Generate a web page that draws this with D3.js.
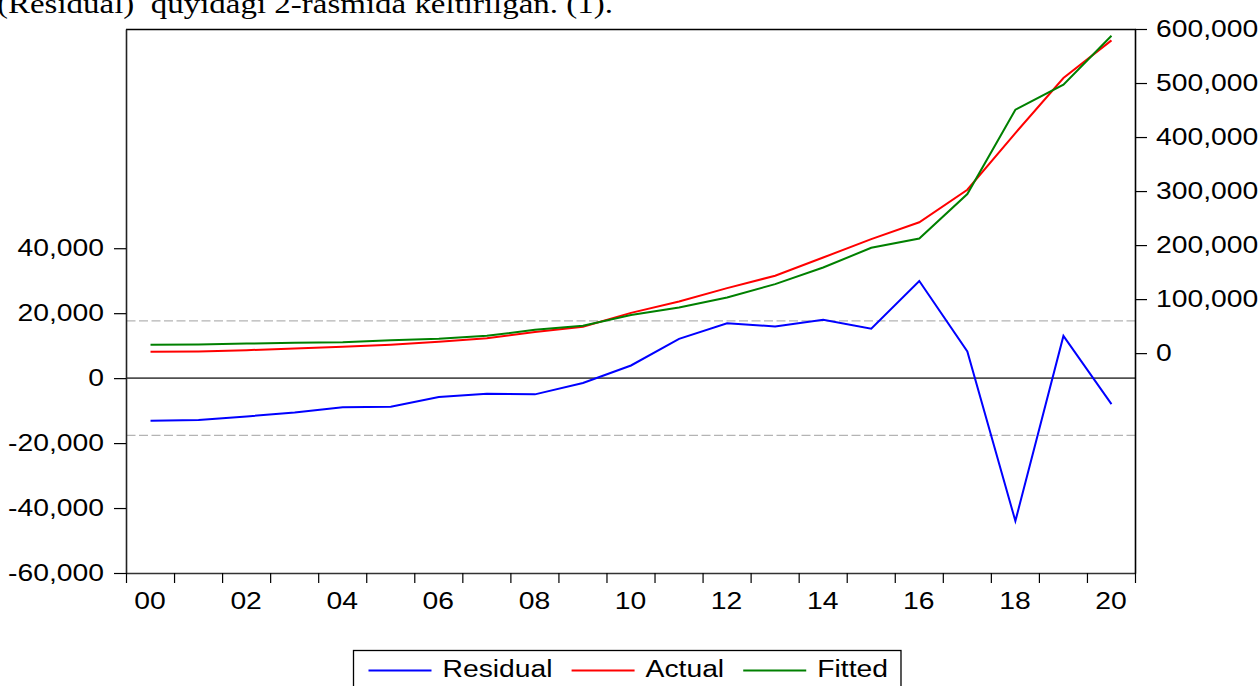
<!DOCTYPE html>
<html>
<head>
<meta charset="utf-8">
<script src="https://cdn.jsdelivr.net/npm/d3@7"></script>
<style>
  html, body { margin: 0; padding: 0; background: #fff; overflow: hidden; }
  svg { display: block; }
</style>
</head>
<body>
<svg id="chart" width="1260" height="686"></svg>
<script>
// ---- data -------------------------------------------------------------
const years = [2000, 2001, 2002, 2003, 2004, 2005, 2006, 2007, 2008, 2009, 2010,
               2011, 2012, 2013, 2014, 2015, 2016, 2017, 2018, 2019, 2020];

// Residual (left scale)
const residual = [-13100, -12900, -11800, -10600, -9000, -8800, -5800, -4800, -5000, -1500, 3900,
                  12100, 16900, 15900, 18000, 15200, 29900, 8200, -44000, 13000, -8000];

// Actual and Fitted (right scale)
const actual = [2400, 3000, 5500, 8500, 11700, 15400, 20900, 27700, 38900, 49000, 74500,
                95600, 120300, 143200, 177000, 211100, 242300, 302400, 407400, 509300, 578900];
const fitted = [15400, 16000, 17800, 19000, 20300, 24000, 26500, 32000, 43100, 50500, 70500,
                84500, 103000, 127800, 158500, 195000, 212000, 294400, 450600, 496900, 587600];

const leftTicks = [-60000, -40000, -20000, 0, 20000, 40000];
const leftTickLabels = ["-60,000", "-40,000", "-20,000", "0", "20,000", "40,000"];
const rightTicks = [0, 100000, 200000, 300000, 400000, 500000, 600000];
const rightTickLabels = ["0", "100,000", "200,000", "300,000", "400,000", "500,000", "600,000"];
const labelYears = [2000, 2002, 2004, 2006, 2008, 2010, 2012, 2014, 2016, 2018, 2020];
const yearLabels = ["00", "02", "04", "06", "08", "10", "12", "14", "16", "18", "20"];

// ± one standard error of the regression, drawn as dashed guides
const stdError = 17600;

const seriesNames = ["Residual", "Actual", "Fitted"];
const seriesColors = ["#0000ff", "#ff0000", "#008000"];

const caption = "(Residual)  quyidagi 2-rasmida keltirilgan. (1).";

// ---- layout -----------------------------------------------------------
const svg = d3.select("#chart");
const FONT = "'Liberation Sans', Arial, sans-serif";
const FS = 23;          // label font size
const STRETCH = 1.23;   // horizontal widening of the label glyphs

const plot = { left: 126, right: 1135, top: 29, bottom: 573 };

svg.append("rect").attr("width", 1260).attr("height", 686).attr("fill", "#fff");

// caption line of the surrounding text, partly above the page edge
svg.append("text")
  .attr("x", -3).attr("y", 13)
  .attr("font-family", "'Liberation Serif', 'DejaVu Serif', serif")
  .attr("font-size", 28)
  .attr("fill", "#000")
  .attr("textLength", 616)
  .attr("lengthAdjust", "spacingAndGlyphs")
  .style("white-space", "pre")
  .text(caption);

// ---- scales -----------------------------------------------------------
const x = d3.scaleBand().domain(years).range([plot.left + 0.5, plot.right + 0.5]).padding(0);
const cx = d => x(d) + x.bandwidth() / 2;
const xEdge = d3.scaleLinear()
  .domain([years[0], years[years.length - 1] + 1])
  .range([plot.left + 0.5, plot.right + 0.5]);

const yL = d3.scaleLinear().domain([-60000, 107500]).range([plot.bottom, plot.top]);
const yR = d3.scaleLinear().domain([-407000, 600000]).range([plot.bottom, plot.top]);

const g = svg.append("g");

// ---- reference lines --------------------------------------------------
[stdError, -stdError].forEach(v => {
  g.append("line")
    .attr("x1", plot.left + 0.5).attr("x2", plot.right + 0.5)
    .attr("y1", yL(v)).attr("y2", yL(v))
    .attr("stroke", "#b4b4b4").attr("stroke-width", 1.3)
    .attr("stroke-dasharray", "9,3.5");
});
g.append("line")
  .attr("x1", plot.left + 0.5).attr("x2", plot.right + 0.5)
  .attr("y1", yL(0)).attr("y2", yL(0))
  .attr("stroke", "#505050").attr("stroke-width", 1.6);

// ---- axes -------------------------------------------------------------
function styleAxis(sel) {
  sel.attr("font-family", FONT).attr("font-size", FS);
  sel.selectAll("text").attr("fill", "#000").classed("stretch", true);
  sel.selectAll(".tick line").attr("stroke", "#000").attr("stroke-width", 1.2);
}

// frame top and bottom
g.append("line")
  .attr("x1", plot.left).attr("x2", plot.right + 1)
  .attr("y1", plot.top + 0.5).attr("y2", plot.top + 0.5)
  .attr("stroke", "#000").attr("stroke-width", 1.5);
g.append("line")
  .attr("x1", plot.left).attr("x2", plot.right + 1)
  .attr("y1", plot.bottom + 0.5).attr("y2", plot.bottom + 0.5)
  .attr("stroke", "#333").attr("stroke-width", 1.5);

// left axis (Residual)
g.append("g")
  .attr("transform", `translate(${plot.left},0)`)
  .call(d3.axisLeft(yL).tickValues(leftTicks).tickSize(12).tickSizeOuter(0).tickPadding(10)
    .tickFormat((d, i) => leftTickLabels[i]))
  .call(styleAxis)
  .call(a => a.select(".domain").attr("stroke", "#222").attr("stroke-width", 1.6));

// right axis (Actual / Fitted)
g.append("g")
  .attr("transform", `translate(${plot.right},0)`)
  .call(d3.axisRight(yR).tickValues(rightTicks).tickSize(12).tickSizeOuter(0).tickPadding(9)
    .tickFormat((d, i) => rightTickLabels[i]))
  .call(styleAxis)
  .call(a => a.select(".domain").attr("stroke", "#000").attr("stroke-width", 1.6));

// bottom axis: ticks on year boundaries
g.append("g")
  .attr("transform", `translate(-0.5,${plot.bottom})`)
  .call(d3.axisBottom(xEdge).tickValues([...years, years[years.length - 1] + 1]).tickSize(10).tickFormat(""))
  .call(styleAxis)
  .call(a => a.select(".domain").remove());

// bottom axis: year labels under the bands
g.append("g")
  .attr("transform", `translate(-0.5,${plot.bottom})`)
  .call(d3.axisBottom(x).tickValues(labelYears).tickSize(0).tickPadding(20)
    .tickFormat((d, i) => yearLabels[i]))
  .call(styleAxis)
  .call(a => a.select(".domain").remove());

// ---- series -----------------------------------------------------------
const series = [
  { name: seriesNames[0], values: residual, y: yL, color: seriesColors[0] },
  { name: seriesNames[1], values: actual,   y: yR, color: seriesColors[1] },
  { name: seriesNames[2], values: fitted,   y: yR, color: seriesColors[2] }
];

series.forEach(s => {
  const line = d3.line().x((d, i) => cx(years[i])).y(d => s.y(d));
  g.append("path")
    .datum(s.values)
    .attr("d", line)
    .attr("fill", "none")
    .attr("stroke", s.color)
    .attr("stroke-width", 2)
    .attr("stroke-linejoin", "miter");
});

// ---- legend -----------------------------------------------------------
const legend = svg.append("g").attr("transform", "translate(353.5,650.5)");
const legendBox = legend.append("rect")
  .attr("x", 0).attr("y", 0).attr("height", 60)
  .attr("fill", "#fff").attr("stroke", "#000").attr("stroke-width", 1.3);

let lx = 15;
series.forEach(s => {
  legend.append("line")
    .attr("x1", lx).attr("x2", lx + 63)
    .attr("y1", 20).attr("y2", 20)
    .attr("stroke", s.color).attr("stroke-width", 2);
  lx += 63 + 11;
  const t = legend.append("text")
    .attr("x", lx).attr("y", 26.5)
    .attr("font-family", FONT).attr("font-size", FS)
    .attr("fill", "#000")
    .classed("stretch", true)
    .text(s.name);
  lx += t.node().getComputedTextLength() * STRETCH + 19;
});
legendBox.attr("width", lx - 19 + 13);

// widen label glyphs horizontally about their anchor point
svg.selectAll("text.stretch").each(function () {
  const t = d3.select(this);
  const ax = +t.attr("x") || 0;
  t.attr("transform", `translate(${ax * (1 - STRETCH)},0) scale(${STRETCH},1)`);
});
</script>
</body>
</html>
